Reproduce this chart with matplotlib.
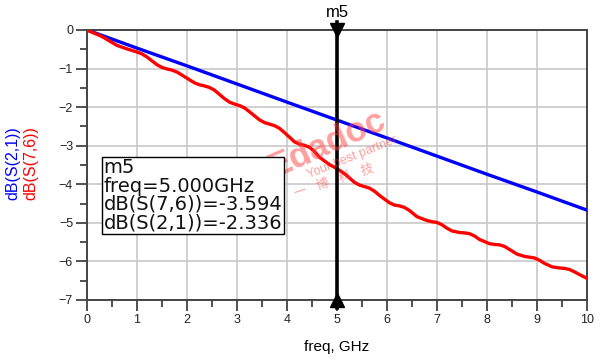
import matplotlib
matplotlib.use('Agg')
import matplotlib.pyplot as plt
import numpy as np

plt.rcParams['font.family'] = ['Liberation Sans', 'DejaVu Sans']

# S21 (blue)
freq_s21 = [0, 1, 2, 3, 4, 5, 6, 7, 8, 9, 10]
db_s21 = [0, -0.47, -0.93, -1.40, -1.87, -2.336, -2.80, -3.27, -3.74, -4.20, -4.67]

# S76 (red), wavy staircase
freq_s76 = [0.0, 0.3, 0.6, 0.8, 0.9, 1.0, 1.1, 1.2, 1.3, 1.4, 1.5, 1.6, 1.7, 1.8,
            1.95, 2.15, 2.25, 2.35, 2.45, 2.55, 2.75, 2.85, 2.95, 3.05, 3.15,
            3.25, 3.45, 3.55, 3.65, 3.75, 3.85, 3.95, 4.15, 4.25, 4.35, 4.45,
            4.55, 4.65, 4.85, 5.0, 5.1, 5.2, 5.35, 5.45, 5.55, 5.65, 5.75, 5.85,
            6.05, 6.15, 6.25, 6.35, 6.45, 6.6, 6.8, 6.9, 7.0, 7.1, 7.2, 7.3,
            7.45, 7.55, 7.65, 7.75, 7.85, 8.05, 8.15, 8.25, 8.35, 8.45, 8.6,
            8.75, 8.85, 8.95, 9.05, 9.15, 9.3, 9.45, 9.55, 9.65, 9.75, 9.85, 10.0]
db_s76 = [0.0, -0.17, -0.40, -0.49, -0.53, -0.57, -0.62, -0.70, -0.80, -0.90,
          -0.97, -1.01, -1.04, -1.09, -1.21, -1.37, -1.42, -1.45, -1.49, -1.56,
          -1.78, -1.87, -1.92, -1.96, -2.02, -2.12, -2.33, -2.40, -2.44, -2.48,
          -2.55, -2.66, -2.90, -2.96, -2.99, -3.04, -3.15, -3.30, -3.49, -3.594,
          -3.68, -3.78, -3.95, -4.02, -4.06, -4.10, -4.18, -4.29, -4.48, -4.54,
          -4.56, -4.60, -4.68, -4.84, -4.94, -4.97, -4.99, -5.05, -5.14, -5.21,
          -5.25, -5.26, -5.28, -5.34, -5.43, -5.54, -5.56, -5.57, -5.61, -5.69,
          -5.81, -5.87, -5.89, -5.91, -5.97, -6.05, -6.14, -6.17, -6.18, -6.21,
          -6.27, -6.34, -6.44]

marker_f = 5.0
marker_lines = ['m5', 'freq=5.000GHz', 'dB(S(7,6))=-3.594', 'dB(S(2,1))=-2.336']

fig = plt.figure(figsize=(6.01, 3.62), dpi=100)
ax = fig.add_axes([87/601, 1-300/362, 500/601, 270/362])

ax.plot(freq_s21, db_s21, color='#0000ff', lw=2.4, solid_capstyle='round', zorder=3)
ax.plot(freq_s76, db_s76, color='#ff0000', lw=2.4, solid_joinstyle='round',
        solid_capstyle='round', zorder=3)

ax.set_xlim(0, 10)
ax.set_ylim(-7, 0)
ax.set_xticks(np.arange(0, 11, 1))
ax.set_yticks(np.arange(-7, 1, 1))
ax.set_xticks(np.arange(0.5, 10, 1), minor=True)
ax.set_yticks(np.arange(-6.5, 0, 1), minor=True)
ax.grid(True, which='major', color='#c8c8c8', lw=1.2)
ax.set_axisbelow(True)
ax.tick_params(which='major', length=8, width=1.2, color='#333333',
               labelsize=9, labelcolor='#222222', pad=2)
ax.tick_params(which='minor', length=5, width=1.2, color='#333333')
for sp in ax.spines.values():
    sp.set_color('#444444')
    sp.set_linewidth(1.4)

ax.set_xlabel('freq, GHz', fontsize=11, labelpad=10)

# two-colour y label
fig.text(13/601, 1-163/362, 'dB(S(2,1))', color='#0000ff', fontsize=11.5,
         rotation=90, ha='center', va='center')
fig.text(31/601, 1-163/362, 'dB(S(7,6))', color='#ff0000', fontsize=11.5,
         rotation=90, ha='center', va='center')

# marker m5
ax.axvline(marker_f, color='black', lw=2.6, zorder=4, clip_on=False,
           ymin=-0.03, ymax=1.03)
ax.plot([marker_f], [0], marker='v', color='black', ms=10, clip_on=False, zorder=5)
ax.plot([marker_f], [-7], marker='^', color='black', ms=10, clip_on=False, zorder=5)
ax.text(marker_f, 0.27, 'm5', ha='center', va='bottom', fontsize=12)

ax.text(0.33, -3.33, '\n'.join(marker_lines), ha='left', va='top', fontsize=14,
        linespacing=0.95, zorder=6, family=['DejaVu Sans'], color='#111111',
        bbox=dict(boxstyle='square,pad=0.08', fc='white', ec='black', lw=1.0))

# watermark
ax.text(4.8, -2.95, 'Edadoc', color='#ff4040', alpha=0.5, fontsize=25,
        fontweight='bold', rotation=24, ha='center', va='center', zorder=5)
ax.text(5.3, -3.3, 'Your best partner', color='#ff4040', alpha=0.5, fontsize=9,
        rotation=22, ha='center', va='center', zorder=5)
ax.text(4.95, -3.9, '一    博    科    技', color='#ff4040', alpha=0.5, fontsize=9,
        rotation=18, ha='center', va='center', zorder=5,
        family=['Noto Sans CJK SC', 'DejaVu Sans'])

fig.savefig('out.png', dpi=100)
